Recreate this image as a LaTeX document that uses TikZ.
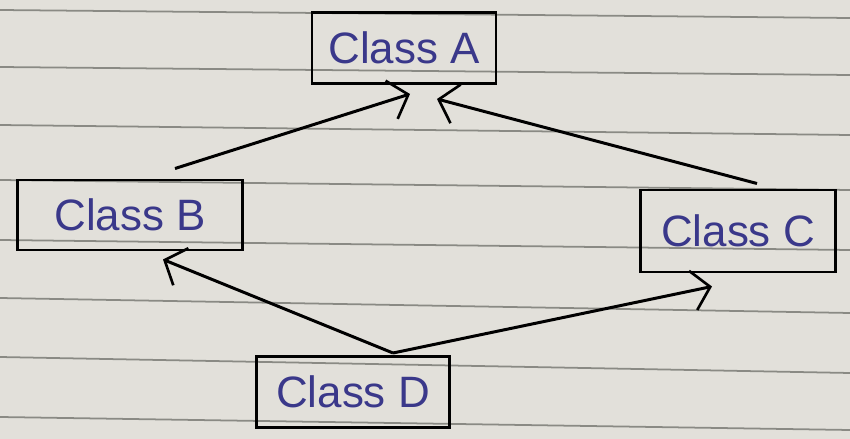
\documentclass[tikz,border=0pt]{standalone}
\usepackage{fontspec}
\setmainfont{Liberation Sans}
\usepackage{xcolor}
\usetikzlibrary{arrows.meta}
\definecolor{paper}{RGB}{226,224,218}
\definecolor{rule}{RGB}{138,138,132}
\definecolor{ink}{RGB}{58,56,138}
\tikzset{
  classbox/.style={draw=black, line width=1.7pt, inner sep=0pt,
    text=ink, font=\fontsize{25}{28}\selectfont},
  inherit/.style={line width=1.7pt, -{Straight Barb[length=3.5mm,width=8mm,line width=1.5pt]}}
}
\begin{document}
\begin{tikzpicture}[x=0.02cm,y=-0.02cm]
\fill[paper] (0,0) rectangle (850,439);
\useasboundingbox (0,0) rectangle (850,439);
% ruled lines of the page
\foreach \y/\d in {10/8,67/8,125/10,180/10,240/10,298/15,357/16,417/13}
    \draw[rule, line width=1pt] (0,\y) -- (850,\y+\d);
\node[classbox, minimum width=184*0.02cm, minimum height=71*0.02cm] (a) at (404,48) {Class A};
\node[classbox, minimum width=225*0.02cm, minimum height=70*0.02cm] (b) at (130,215) {Class B};
\node[classbox, minimum width=195*0.02cm, minimum height=82*0.02cm] (c) at (738,231) {Class C};
\node[classbox, minimum width=193*0.02cm, minimum height=71*0.02cm] (d) at (353,392) {Class D};
\draw[inherit] ([shift={(45,-10)}]b.north) -- ([shift={(6,9)}]a.south);
\draw[inherit] ([shift={(19,-5)}]c.north) -- ([shift={(33,14)}]a.south);
\draw[inherit] ([shift={(40,-2)}]d.north) -- ([shift={(33,8)}]b.south);
\draw[inherit] ([shift={(40,-2)}]d.north) -- ([shift={(-26,13)}]c.south);
\end{tikzpicture}
\end{document}
